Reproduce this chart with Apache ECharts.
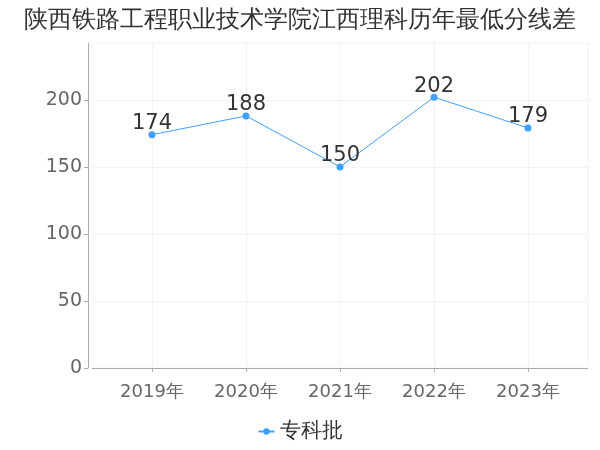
<!DOCTYPE html>
<html>
<head>
<meta charset="utf-8">
<script src="https://cdn.jsdelivr.net/npm/echarts@6/dist/echarts.min.js"></script>
<style>html,body{margin:0;padding:0;background:#fff}#c{width:600px;height:450px}</style>
</head>
<body>
<div id="c"></div>
<script>
const titleText = '陕西铁路工程职业技术学院江西理科历年最低分线差';
const seriesName = '专科批';
const years = [2019, 2020, 2021, 2022, 2023];
const values = [174, 188, 150, 202, 179];
const yTicks = [0, 50, 100, 150, 200];

const chart = echarts.init(document.getElementById('c'));
chart.setOption({
  animation: false,
  textStyle: { fontFamily: 'DejaVu Sans' },
  title: {
    text: titleText, left: 'center', top: 4,
    textStyle: { fontSize: 24, fontWeight: 'normal', color: '#333', fontFamily: 'DejaVu Sans' }
  },
  legend: {
    bottom: 3, left: 'center',
    data: [seriesName],
    itemWidth: 16, itemHeight: 8,
    textStyle: { fontSize: 21, color: '#333', fontFamily: 'DejaVu Sans' }
  },
  grid: {
    left: 92, right: 12, top: 43, bottom: 82,
    show: true, borderColor: '#f2f2f2', borderWidth: 1
  },
  xAxis: {
    type: 'value',
    min: 2018.362, max: 2023.638,
    offset: 4,
    axisLine: { show: true, lineStyle: { color: '#aaa' } },
    axisTick: { show: true, customValues: years, length: 4, lineStyle: { color: '#aaa' } },
    axisLabel: {
      customValues: years, fontSize: 18, color: '#666', margin: 11, fontFamily: 'DejaVu Sans',
      formatter: v => v + '年'
    },
    splitLine: { show: true, lineStyle: { color: '#f2f2f2' } }
  },
  yAxis: {
    type: 'value', min: 0, max: 242.4, interval: 50,
    offset: 4,
    axisLine: { show: true, lineStyle: { color: '#aaa' } },
    axisTick: { show: true, length: 4, lineStyle: { color: '#aaa' }, customValues: yTicks },
    axisLabel: { fontSize: 19, color: '#666', margin: 6, customValues: yTicks, fontFamily: 'DejaVu Sans' },
    splitLine: { show: true, lineStyle: { color: '#f2f2f2' } }
  },
  series: [{
    name: seriesName,
    type: 'line',
    data: years.map((y, i) => [y, values[i]]),
    symbol: 'circle', symbolSize: 7,
    itemStyle: { color: '#3ea0ff' },
    lineStyle: { width: 1, color: '#3ea0ff' },
    label: { show: true, position: 'top', fontSize: 21, color: '#333', distance: -3, fontFamily: 'DejaVu Sans' }
  }]
});
</script>
</body>
</html>
